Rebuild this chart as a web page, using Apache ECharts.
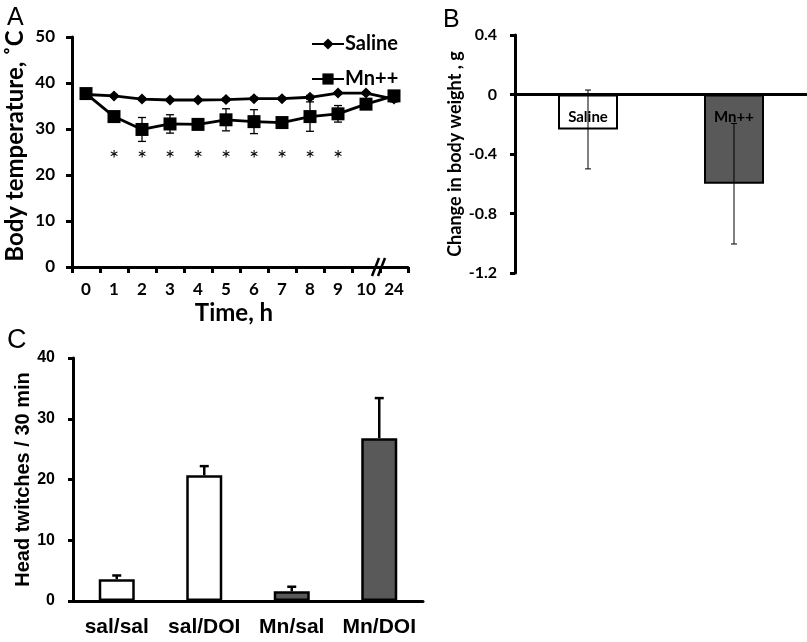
<!DOCTYPE html>
<html>
<head>
<meta charset="utf-8">
<script src="https://cdn.jsdelivr.net/npm/echarts@6/dist/echarts.min.js"></script>
<style>html,body{margin:0;padding:0;background:#fff}#c{width:807px;height:642px}</style>
</head>
<body>
<div id="c"></div>
<script>
// ---- Panel A data ----
const timeLabels = ['0','1','2','3','4','5','6','7','8','9','10','24'];
const salineTemp = [37.5, 37.2, 36.5, 36.3, 36.3, 36.4, 36.6, 36.6, 36.9, 37.8, 37.8, 36.5];
const salineErr  = [0.3, 0.3, 0.3, 0.3, 0.3, 0.3, 0.3, 0.3, 0.4, 0.3, 0.3, 0.6];
const mnTemp     = [37.7, 32.7, 29.9, 31.1, 31.0, 32.0, 31.6, 31.4, 32.7, 33.3, 35.4, 37.2];
const mnErr      = [0.4, 0.5, 2.6, 2.0, 0.8, 2.4, 2.6, 0.8, 3.2, 1.8, 0.6, 0.6];
const starTimes  = ['1','2','3','4','5','6','7','8','9'];
const starLevel  = 25;
const tempTicks  = [0, 10, 20, 30, 40, 50];

// ---- Panel B data ----
const weightGroups = ['Saline', 'Mn++'];
const weightChange = [-0.235, -0.6];
const weightErr    = [0.265, 0.405];
const weightTicks  = [-1.2, -0.8, -0.4, 0, 0.4];

// ---- Panel C data ----
const htrGroups = ['sal/sal', 'sal/DOI', 'Mn/sal', 'Mn/DOI'];
const htrMean   = [3.6, 20.7, 1.6, 26.8];
const htrErr    = [0.6, 1.5, 0.75, 6.6];
const htrTicks  = [0, 10, 20, 30, 40];

const CAL = 'Lato, "Open Sans", sans-serif';
const ARI = '"Liberation Sans", Arial, sans-serif';
const GRAY = '#595959';

const chart = echarts.init(document.getElementById('c'), null, {renderer: 'canvas'});

function errBar(opts) {
  return function (params, api) {
    const x = api.value(0), y = api.value(1), e = api.value(2);
    const c = api.coord([x, y]);
    const t = api.coord([x, y + e]);
    const b = api.coord([x, opts.upperOnly ? y : y - e]);
    const hw = opts.cap / 2;
    const st = {stroke: '#000', lineWidth: opts.lw};
    const ch = [
      {type: 'line', shape: {x1: c[0], y1: b[1], x2: c[0], y2: t[1]}, style: st},
      {type: 'line', shape: {x1: c[0] - hw, y1: t[1], x2: c[0] + hw, y2: t[1]}, style: st}
    ];
    if (!opts.upperOnly) ch.push({type: 'line', shape: {x1: c[0] - hw, y1: b[1], x2: c[0] + hw, y2: b[1]}, style: st});
    return {type: 'group', children: ch};
  };
}

const axisLineStyle = {color: '#000', width: 3};

const option = {
  animation: false,
  backgroundColor: '#fff',
  title: [
    {text: 'A', left: 2, top: 1, textStyle: {fontFamily: ARI, fontWeight: 'normal', fontSize: 25, color: '#000'}},
    {text: 'B', left: 438, top: 3, textStyle: {fontFamily: ARI, fontWeight: 'normal', fontSize: 25, color: '#000'}},
    {text: 'C', left: 2, top: 322, textStyle: {fontFamily: ARI, fontWeight: 'normal', fontSize: 27, color: '#000'}}
  ],
  legend: {
    data: ['Saline', 'Mn++'],
    orient: 'vertical',
    left: 306, top: 29,
    itemWidth: 32, itemHeight: 14, itemGap: 15,
    textStyle: {fontFamily: CAL, fontWeight: 'bold', fontSize: 20, color: '#000', padding: [0, 0, 0, -4]}
  },
  grid: [
    {left: 72, top: 37, width: 336, height: 230},
    {left: 515, top: 35, width: 292, height: 238},
    {left: 73, top: 358, width: 350, height: 243}
  ],
  xAxis: [
    {gridIndex: 0, type: 'category', data: timeLabels, boundaryGap: true,
     name: 'Time, h', nameLocation: 'middle', nameGap: 34,
     nameTextStyle: {fontFamily: CAL, fontWeight: 'bold', fontSize: 24, color: '#000', padding: [0, 12, 0, 0]},
     axisLine: {lineStyle: axisLineStyle},
     axisTick: {show: true, interval: 0, length: 6, lineStyle: {color: '#000', width: 3}},
     axisLabel: {interval: 0, margin: 14, fontFamily: CAL, fontWeight: 'bold', fontSize: 17, color: '#000'}},
    {gridIndex: 1, type: 'category', data: weightGroups,
     axisLine: {onZero: true, lineStyle: axisLineStyle},
     axisTick: {show: false}, axisLabel: {show: false}},
    {gridIndex: 2, type: 'category', data: htrGroups,
     axisLine: {lineStyle: axisLineStyle},
     axisTick: {show: false},
     axisLabel: {interval: 0, margin: 16, fontFamily: ARI, fontWeight: 'bold', fontSize: 21, color: '#000'}}
  ],
  yAxis: [
    {gridIndex: 0, type: 'value', min: tempTicks[0], max: tempTicks[tempTicks.length - 1], interval: 10,
     name: 'Body temperature, \u02DAC', nameLocation: 'middle', nameGap: 45,
     nameTextStyle: {fontFamily: CAL, fontWeight: 'bold', fontSize: 24, color: '#000', padding: [0, 0, 0, 12]},
     axisLine: {show: true, lineStyle: axisLineStyle},
     axisTick: {show: true, length: 6, lineStyle: {color: '#000', width: 3}},
     splitLine: {show: false},
     axisLabel: {margin: 17, fontFamily: CAL, fontWeight: 'bold', fontSize: 17, color: '#000'}},
    {gridIndex: 1, type: 'value', min: weightTicks[0], max: weightTicks[weightTicks.length - 1], interval: 0.4,
     name: 'Change in body weight , g', nameLocation: 'middle', nameGap: 51,
     nameTextStyle: {fontFamily: CAL, fontWeight: 'bold', fontSize: 18, color: '#000'},
     axisLine: {show: true, lineStyle: axisLineStyle},
     axisTick: {show: true, length: 5, lineStyle: {color: '#000', width: 3}},
     splitLine: {show: false},
     axisLabel: {margin: 18, fontFamily: CAL, fontWeight: 'bold', fontSize: 16, color: '#000',
       formatter: v => String(Number(v.toFixed(1)))}},
    {gridIndex: 2, type: 'value', min: htrTicks[0], max: htrTicks[htrTicks.length - 1], interval: 10,
     name: 'Head twitches / 30 min', nameLocation: 'middle', nameGap: 36,
     nameTextStyle: {fontFamily: ARI, fontWeight: 'bold', fontSize: 20, color: '#000'},
     axisLine: {show: true, lineStyle: axisLineStyle},
     axisTick: {show: true, length: 5, lineStyle: {color: '#000', width: 3}},
     splitLine: {show: false},
     axisLabel: {margin: 18, fontFamily: ARI, fontWeight: 'bold', fontSize: 16, color: '#000'}}
  ],
  series: [
    // Panel A error bars
    {type: 'custom', xAxisIndex: 0, yAxisIndex: 0, z: 1, clip: false,
     renderItem: errBar({cap: 8, lw: 1.3}),
     data: salineTemp.map((v, i) => [i, v, salineErr[i]])},
    {type: 'custom', xAxisIndex: 0, yAxisIndex: 0, z: 1, clip: false,
     renderItem: errBar({cap: 8, lw: 1.3}),
     data: mnTemp.map((v, i) => [i, v, mnErr[i]])},
    {name: 'Saline', type: 'line', xAxisIndex: 0, yAxisIndex: 0, z: 3,
     data: salineTemp, symbol: 'diamond', symbolSize: 11, showAllSymbol: true,
     lineStyle: {color: '#000', width: 2.8}, itemStyle: {color: '#000'}},
    {name: 'Mn++', type: 'line', xAxisIndex: 0, yAxisIndex: 0, z: 4,
     data: mnTemp, symbol: 'rect', symbolSize: 13, showAllSymbol: true,
     lineStyle: {color: '#000', width: 2.8}, itemStyle: {color: '#000'}},
    // stars
    {type: 'custom', xAxisIndex: 0, yAxisIndex: 0, z: 5,
     renderItem: function (params, api) {
       const p = api.coord([api.value(0), api.value(1)]);
       return {type: 'text', x: p[0], y: p[1] + 7, style: {text: '*', fontFamily: CAL, fontSize: 24, fill: '#000', align: 'center', verticalAlign: 'middle'}};
     },
     data: starTimes.map(t => [timeLabels.indexOf(t), starLevel])},
    // axis break mark between 10 and 24
    {type: 'custom', xAxisIndex: 0, yAxisIndex: 0, z: 6, clip: false,
     renderItem: function (params, api) {
       const a = api.coord([10, 0]), b = api.coord([11, 0]);
       const x = (a[0] + b[0]) / 2, y = a[1];
       const st = {stroke: '#000', lineWidth: 2.5};
       return {type: 'group', children: [
         {type: 'line', shape: {x1: x - 8, y1: y + 9, x2: x - 1, y2: y - 9}, style: st},
         {type: 'line', shape: {x1: x - 2, y1: y + 9, x2: x + 5, y2: y - 9}, style: st}
       ]};
     },
     data: [[10, 0]]},
    // Panel B bars
    {type: 'bar', xAxisIndex: 1, yAxisIndex: 1, barWidth: 60, z: 2,
     data: weightChange.map((v, i) => ({value: v, itemStyle: {color: i === 0 ? '#fff' : GRAY, borderColor: '#000', borderWidth: 2}}))},
    {type: 'custom', xAxisIndex: 1, yAxisIndex: 1, z: 3, clip: false,
     renderItem: function (params, api) {
       const p = api.coord([api.value(0), -0.155]);
       return {type: 'text', x: p[0], y: p[1], style: {text: weightGroups[params.dataIndex], fontFamily: CAL, fontWeight: 'bold', fontSize: 15, fill: '#000', align: 'center', verticalAlign: 'middle'}};
     },
     data: weightGroups.map((g, i) => [i, 0])},
    {type: 'custom', xAxisIndex: 1, yAxisIndex: 1, z: 4, clip: false,
     renderItem: errBar({cap: 6, lw: 1}),
     data: weightChange.map((v, i) => [i, v, weightErr[i]])},
    // Panel C bars
    {type: 'bar', xAxisIndex: 2, yAxisIndex: 2, barWidth: 36, z: 2,
     data: htrMean.map((v, i) => ({value: v, itemStyle: {color: i < 2 ? '#fff' : GRAY, borderColor: '#000', borderWidth: 2.5}}))},
    {type: 'custom', xAxisIndex: 2, yAxisIndex: 2, z: 1, clip: false,
     renderItem: errBar({cap: 9, lw: 2.5, upperOnly: true}),
     data: htrMean.map((v, i) => [i, v, htrErr[i]])}
  ]
};
chart.setOption(option);
</script>
</body>
</html>
